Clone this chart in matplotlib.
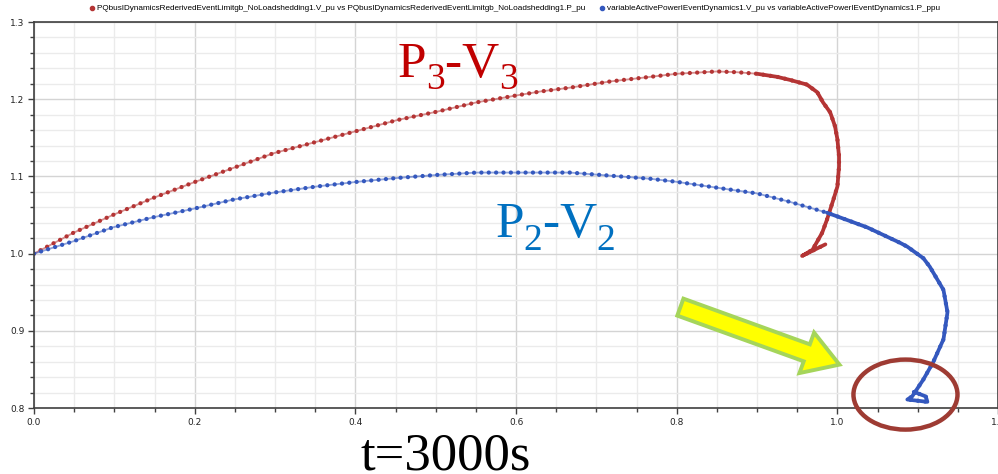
import numpy as np
import matplotlib
matplotlib.use("Agg")
import matplotlib.pyplot as plt
from matplotlib.lines import Line2D
from matplotlib.patches import Ellipse, FancyArrowPatch
from matplotlib.ticker import MultipleLocator, FormatStrFormatter
from matplotlib.transforms import offset_copy

# -----------------------------------------------------
# DATA
# -----------------------------------------------------

red_p = [0.000, 0.049, 0.098, 0.148, 0.198, 0.248, 0.298, 0.352, 0.402, 0.452,
         0.502, 0.551, 0.601, 0.630, 0.667, 0.717, 0.767, 0.800, 0.850, 0.875,
         0.900, 0.925, 0.941, 0.962, 0.975, 0.982, 0.991, 0.997, 1.000, 1.002,
         1.002, 1.000, 0.995, 0.987, 0.981, 0.975, 0.969, 0.956, 0.985]
red_v = [1.000, 1.027, 1.050, 1.072, 1.092, 1.111, 1.130, 1.145, 1.159, 1.173,
         1.184, 1.196, 1.205, 1.210, 1.215, 1.223, 1.229, 1.233, 1.236, 1.235,
         1.233, 1.229, 1.225, 1.219, 1.209, 1.196, 1.183, 1.165, 1.148, 1.126,
         1.113, 1.087, 1.070, 1.044, 1.027, 1.016, 1.005, 0.997, 1.012]

blue_p = [0.000, 0.049, 0.098, 0.148, 0.198, 0.248, 0.298, 0.352, 0.402, 0.452,
          0.502, 0.551, 0.601, 0.667, 0.717, 0.767, 0.800, 0.833, 0.866, 0.900,
          0.941, 0.987, 1.003, 1.037, 1.078, 1.087, 1.107, 1.115, 1.132, 1.137,
          1.132, 1.119, 1.107, 1.093, 1.087, 1.112, 1.110, 1.095]
blue_v = [1.000, 1.016, 1.034, 1.047, 1.058, 1.070, 1.079, 1.087, 1.093, 1.098,
          1.102, 1.105, 1.105, 1.105, 1.101, 1.097, 1.093, 1.088, 1.083, 1.078,
          1.067, 1.053, 1.047, 1.034, 1.014, 1.009, 0.994, 0.983, 0.953, 0.924,
          0.889, 0.859, 0.837, 0.815, 0.811, 0.808, 0.815, 0.821]

red_label = ("PQbusIDynamicsRederivedEventLimitgb_NoLoadshedding1.V_pu vs "
             "PQbusIDynamicsRederivedEventLimitgb_NoLoadshedding1.P_pu")
blue_label = ("variableActivePowerIEventDynamics1.V_pu vs "
              "variableActivePowerIEventDynamics1.P_ppu")

red_c = "#B43434"
blue_c = "#3458BE"

# -----------------------------------------------------
# FIGURE
# -----------------------------------------------------

fig = plt.figure(figsize=(9.98, 4.74), dpi=100)
ax = fig.add_axes([0.0341, 0.1392, 0.966, 0.8143])

ax.set_xlim(0, 1.2)
ax.set_ylim(0.8, 1.3)

ax.xaxis.set_major_locator(MultipleLocator(0.2))
ax.xaxis.set_minor_locator(MultipleLocator(0.05))
ax.yaxis.set_major_locator(MultipleLocator(0.1))
ax.yaxis.set_minor_locator(MultipleLocator(0.02))
ax.xaxis.set_major_formatter(FormatStrFormatter("%.1f"))
ax.yaxis.set_major_formatter(FormatStrFormatter("%.1f"))

ax.grid(which="minor", color="#ebebeb", linewidth=1.0)
ax.grid(which="major", color="#d4d4d4", linewidth=1.0)
ax.set_axisbelow(True)

ax.tick_params(which="both", direction="out", color="#404040",
               labelsize=6.5, labelcolor="#222222", pad=3)
ax.tick_params(which="major", length=4, width=1)
ax.tick_params(which="minor", length=3, width=1)
for s in ax.spines.values():
    s.set_color("#404040")
    s.set_linewidth(1.2)

# -----------------------------------------------------
# CURVES
# -----------------------------------------------------

for p, v, c, dense_from in [(red_p, red_v, red_c, 0.9),
                            (blue_p, blue_v, blue_c, 0.98)]:
    p = np.array(p)
    v = np.array(v)
    ax.plot(p, v, color=c, linewidth=1.3, alpha=0.55,
            solid_capstyle="round", solid_joinstyle="round")
    ax.plot(p, v, color=c, linewidth=3.1, linestyle=(0, (0.01, 1.7)),
            dash_capstyle="round")
    tail = np.argmax(p >= dense_from)
    ax.plot(p[tail:], v[tail:], color=c, linewidth=2.7,
            solid_capstyle="round", solid_joinstyle="round")

# -----------------------------------------------------
# ANNOTATIONS
# -----------------------------------------------------

renderer = fig.canvas.get_renderer()


def subscript_label(x, y, pieces, color):
    # pieces: (text, fontsize, drop in points, bold)
    dx = 0.0
    for txt, size, drop, bold in pieces:
        tr = offset_copy(ax.transData, fig=fig, x=dx, y=-drop, units="points")
        t = ax.text(x, y, txt, transform=tr, family="Liberation Serif",
                    fontsize=size, color=color, ha="left", va="baseline",
                    fontweight="bold" if bold else "normal")
        w = t.get_window_extent(renderer).width
        dx += w * 72.0 / fig.dpi


subscript_label(0.452, 1.229,
                [("P", 37, 0, False), ("3", 27, 9, False),
                 ("-", 37, 0, True), ("V", 37, 0, False), ("3", 27, 9, False)],
                "#C00000")
subscript_label(0.574, 1.021,
                [("P", 37, 0, False), ("2", 27, 9, False),
                 ("-", 37, 0, True), ("V", 37, 0, False), ("2", 27, 9, False)],
                "#0070C0")

arrow = FancyArrowPatch(
    (0.8045, 0.9307), (1.0025, 0.8562),
    arrowstyle="simple,head_length=25,head_width=31,tail_width=13",
    mutation_scale=1, shrinkA=0, shrinkB=0,
    facecolor="#FFFF00", edgecolor="#A5D55A", linewidth=2.8,
    joinstyle="miter", zorder=5
)
ax.add_patch(arrow)

ell = Ellipse((1.0847, 0.8174), 0.1295, 0.0907, fill=False,
              edgecolor="#9E3B33", linewidth=3.2, clip_on=False, zorder=6)
ax.add_patch(ell)

fig.text(0.447, 0.010, "t=3000s", family="Liberation Serif", fontsize=38,
         color="black", ha="center", va="baseline")

# -----------------------------------------------------
# LEGEND
# -----------------------------------------------------

handles = [
    Line2D([], [], color=red_c, marker="o", markersize=3, linestyle="none"),
    Line2D([], [], color=blue_c, marker="o", markersize=3, linestyle="none"),
]
fig.legend(handles, [red_label, blue_label], loc="center",
           bbox_to_anchor=(0.516, 0.982), ncol=2, frameon=False,
           handlelength=0.6, handletextpad=0.3, columnspacing=1.8,
           prop={"family": "Liberation Sans", "size": 5.9})

fig.savefig("out.png", dpi=100)
